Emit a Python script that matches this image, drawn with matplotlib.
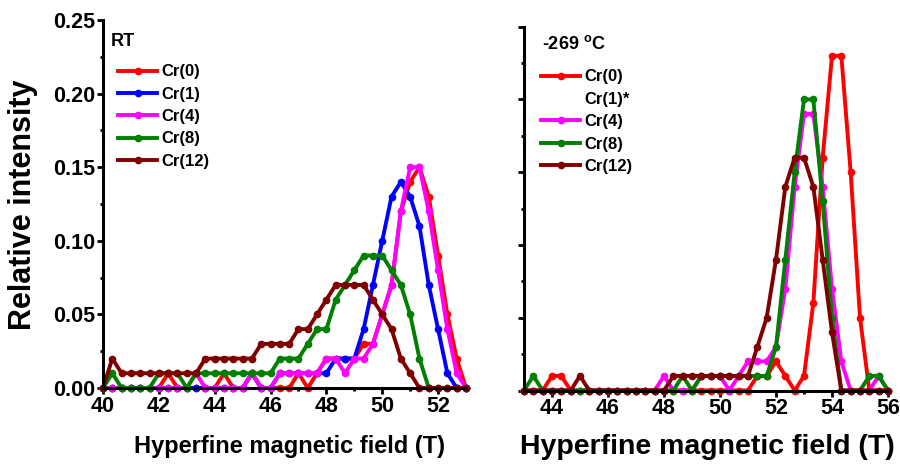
import numpy as np
import matplotlib
matplotlib.use("Agg")
import matplotlib.pyplot as plt

plt.rcParams['font.family'] = ['Liberation Sans', 'DejaVu Sans']
plt.rcParams['font.weight'] = 'bold'
plt.rcParams['mathtext.fontset'] = 'custom'
plt.rcParams['mathtext.rm'] = 'Liberation Sans:bold'
plt.rcParams['mathtext.bf'] = 'Liberation Sans:bold'

# hyperfine field grids (T), step 1/3 T
field_rt = np.linspace(40, 53, 40)
field_lt = np.linspace(43, 56, 40)

# room temperature distributions
rt_cr0 = [0, 0, 0, 0, 0, 0, 0, .01, 0, 0, 0, 0, 0, .01, 0, 0, .01, 0, 0, 0,
          0, .01, 0, .01, .02, .02, .02, .02, .03, .03, .05, .07, .12, .14, .15, .13, .09, .05, .02, 0]
rt_cr1 = [0, 0, 0, 0, 0, 0, 0, 0, 0, 0, 0, 0, 0, 0, 0, 0, .01, 0, 0, .01,
          .01, .01, .01, .01, .01, .02, .02, .02, .04, .07, .10, .13, .14, .13, .11, .07, .04, .01, 0, 0]
rt_cr4 = [0, 0, 0, 0, 0, 0, 0, 0, 0, 0, .01, 0, 0, 0, 0, 0, .01, 0, 0, .01,
          .01, .01, .01, .01, .02, .02, .01, .02, .02, .03, .05, .07, .12, .15, .15, .12, .08, .04, .01, 0]
rt_cr8 = [0, .01, 0, 0, 0, 0, .01, .01, .01, 0, .01, .01, .01, .01, .01, .01, .01, .01, .01, .02,
          .02, .02, .03, .04, .04, .06, .07, .08, .09, .09, .09, .08, .07, .05, .02, 0, 0, 0, 0, 0]
rt_cr12 = [0, .02, .01, .01, .01, .01, .01, .01, .01, .01, .01, .02, .02, .02, .02, .02, .02, .03, .03, .03,
           .03, .04, .04, .05, .06, .07, .07, .07, .07, .06, .05, .04, .02, .01, 0, 0, 0, 0, 0, 0]

# -269 C distributions (no Cr(1) curve)
lt_cr0 = [0, 0, 0, .01, .01, 0, 0, 0, 0, 0, 0, 0, 0, 0, 0, 0, 0, 0, 0, 0,
          0, 0, 0, 0, 0, .01, .01, .02, .01, 0, .01, .06, .16, .23, .23, .15, .05, 0, 0, 0]
lt_cr4 = [0, 0, 0, 0, 0, 0, 0, 0, 0, 0, 0, 0, 0, 0, 0, .01, 0, 0, 0, .01,
          .01, .01, 0, .01, .02, .02, .02, .03, .07, .14, .19, .19, .14, .07, .02, 0, 0, 0, .01, 0]
lt_cr8 = [0, .01, 0, 0, 0, 0, 0, 0, 0, 0, 0, 0, 0, 0, 0, 0, 0, .01, 0, .01,
          .01, .01, .01, .01, .01, .01, .01, .03, .09, .15, .20, .20, .13, .05, 0, 0, 0, .01, .01, 0]
lt_cr12 = [0, 0, 0, 0, 0, 0, .01, 0, 0, 0, 0, 0, 0, 0, 0, 0, .01, .01, .01, .01,
           .01, .01, .01, .01, .01, .03, .05, .09, .14, .16, .16, .14, .09, .04, 0, 0, 0, 0, 0, 0]

labels = ['Cr(0)', 'Cr(1)', 'Cr(4)', 'Cr(8)', 'Cr(12)']
colors = ['#ff0000', '#0000ff', '#ff00ff', '#008000', '#800000']

fig = plt.figure(figsize=(9, 4.67), dpi=100)
ax1 = fig.add_axes([103/900, 1-388/467, 363/900, 368/467])
ax2 = fig.add_axes([524/900, 1-390.5/467, 364/900, 363.8/467])


def style(ax, xlim, xticks):
    for s in ['top', 'right']:
        ax.spines[s].set_visible(False)
    for s in ['left', 'bottom']:
        ax.spines[s].set_linewidth(2.2)
    ax.set_xlim(*xlim)
    ax.set_ylim(0, 0.25)
    ax.set_xticks(xticks)
    ax.set_xticks(np.arange(xlim[0], xlim[1] + 0.5, 1), minor=True)
    ax.set_yticks(np.arange(0, 0.26, 0.05))
    ax.set_yticks(np.arange(0.025, 0.25, 0.05), minor=True)
    ax.tick_params(which='major', length=4, width=2, labelsize=15.5, pad=1.5)
    ax.tick_params(which='minor', length=2.5, width=2)
    for lab in ax.get_xticklabels() + ax.get_yticklabels():
        lab.set_fontweight('bold')


kw = dict(lw=2.8, marker='o', ms=4.5, clip_on=False)

for ys, lab, c in zip([rt_cr0, rt_cr1, rt_cr4, rt_cr8, rt_cr12], labels, colors):
    ax1.plot(field_rt, ys, color=c, label=lab, **kw)
style(ax1, (40, 53), np.arange(40, 53, 2))
ax1.yaxis.set_major_formatter(matplotlib.ticker.FormatStrFormatter('%.2f'))

lt_series = [lt_cr0, None, lt_cr4, lt_cr8, lt_cr12]
for ys, lab, c in zip(lt_series, labels, colors):
    if ys is None:
        ax2.plot([], [], color='none', label=lab + '*')
    else:
        ax2.plot(field_lt, ys, color=c, label=lab, **kw)
style(ax2, (43, 56), np.arange(44, 57, 2))
ax2.set_yticklabels([])

leg_kw = dict(loc='upper left', frameon=False, fontsize=12, handlelength=2.35,
              handletextpad=0.28, labelspacing=0.44, borderpad=0, borderaxespad=0,
              bbox_transform=fig.transFigure)
l1 = ax1.legend(bbox_to_anchor=(118/900, 1-64.5/467), **leg_kw)
l2 = ax2.legend(bbox_to_anchor=(541/900, 1-69.5/467), **leg_kw)
for leg in (l1, l2):
    for t in leg.get_texts():
        t.set_fontweight('bold')

fig.text(111/900, 1-42/467, 'RT', fontsize=13, fontweight='bold', va='center', ha='left')
fig.text(542/900, 1-44/467, r'-269 $^{\mathbf{o}}$C', fontsize=13, fontweight='bold',
         va='center', ha='left')

fig.text(23/900, 1-205/467, 'Relative intensity', fontsize=22, fontweight='bold',
         rotation=90, va='center', ha='center')
fig.text(290/900, 1-447/467, 'Hyperfine magnetic field (T)', fontsize=17,
         fontweight='bold', va='center', ha='center')
fig.text(707/900, 1-447/467, 'Hyperfine magnetic field (T)', fontsize=20.5,
         fontweight='bold', va='center', ha='center')

fig.savefig('out.png', dpi=100)
